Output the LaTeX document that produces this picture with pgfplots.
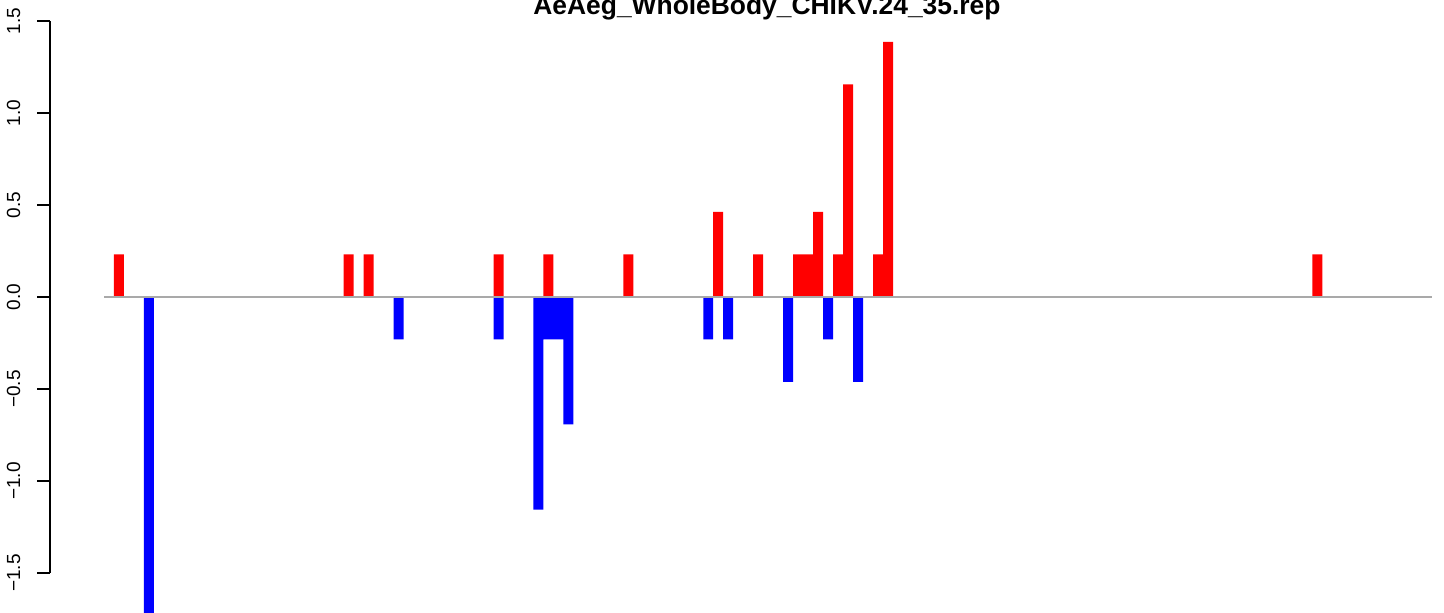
\documentclass[border=0pt]{standalone}
\usepackage{pgfplots}
\pgfplotsset{compat=1.18}
\usepackage{fontspec}
\setmainfont{Liberation Sans}
\definecolor{rred}{HTML}{FF0000}
\definecolor{rblue}{HTML}{0000FF}
\definecolor{rgray}{HTML}{A9A9A9}
\begin{document}
\begin{tikzpicture}
\begin{axis}[
  at={(25pt,0pt)}, anchor=south west,
  scale only axis, width=697pt, height=306.5pt,
  xmin=-5.407, xmax=134.17,
  ymin=-1.7174, ymax=1.6141,
  clip=false,
  axis line style={draw=none},
  xtick=\empty,
  ytick={-1.5,-1,-0.5,0,0.5,1,1.5},
  yticklabels={−1.5,−1.0,−0.5,0.0,0.5,1.0,1.5},
  ytick pos=left,
  tick align=outside,
  major tick length=6.5pt,
  tick style={black, line width=0.75pt},
  yticklabel style={font=\fontsize{9.5}{11}\selectfont, xshift=-8.5pt, rotate=90, anchor=base},
  title={AeAeg\_WholeBody\_CHIKV.24\_35.rep},
  title style={at={(0.5143,0.9763)}, anchor=base, yshift=-6pt, font=\fontsize{13.2}{15}\selectfont\bfseries},
  ybar, bar width=1, bar shift=0pt,
]
\addplot[fill=rred, draw=none] coordinates {
 (1.5,0.231) (24.5,0.231) (26.5,0.231) (39.5,0.231) (44.5,0.231)
 (52.5,0.231) (61.5,0.462) (65.5,0.231) (69.5,0.231) (70.5,0.231)
 (71.5,0.462) (73.5,0.231) (74.5,1.155) (77.5,0.231) (78.5,1.386)
 (121.5,0.231)
};
\addplot[fill=rblue, draw=none] coordinates {
 (4.5,-1.75) (29.5,-0.231) (39.5,-0.231) (43.5,-1.155) (44.5,-0.231)
 (45.5,-0.231) (46.5,-0.693) (60.5,-0.231) (62.5,-0.231) (68.5,-0.462)
 (72.5,-0.231) (75.5,-0.462)
};
\addplot[sharp plot, rgray, line width=1pt] coordinates {(0,0) (133,0)};
\addplot[sharp plot, black, line width=0.75pt] coordinates {(-5.407,-1.5) (-5.407,1.5)};
\end{axis}
\pgfresetboundingbox
\useasboundingbox (0,0) rectangle (722pt,306.5pt);
\end{tikzpicture}
\end{document}
